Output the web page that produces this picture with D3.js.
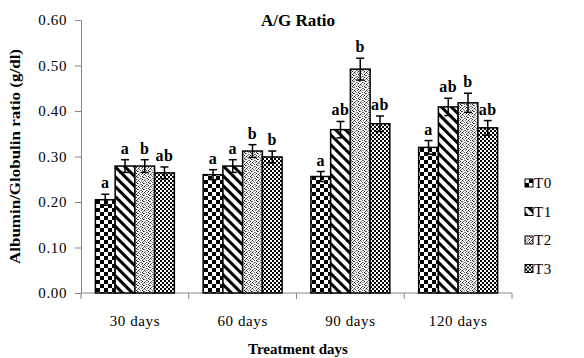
<!DOCTYPE html>
<html>
<head>
<meta charset="utf-8">
<script src="https://cdn.jsdelivr.net/npm/d3@7"></script>
<style>
  body { margin: 0; background: #fff; }
  svg { display: block; font-family: 'Liberation Serif', 'Times New Roman', serif; }
</style>
</head>
<body>
<div id="chart"></div>
<script>
// Data
const categories = ['30 days', '60 days', '90 days', '120 days'];
const seriesNames = ['T0', 'T1', 'T2', 'T3'];
const t0Values = [0.205, 0.260, 0.256, 0.320];
const t1Values = [0.279, 0.279, 0.359, 0.409];
const t2Values = [0.279, 0.312, 0.492, 0.418];
const t3Values = [0.264, 0.299, 0.372, 0.363];
const t0Errors = [0.012, 0.011, 0.011, 0.015];
const t1Errors = [0.014, 0.014, 0.018, 0.019];
const t2Errors = [0.014, 0.014, 0.024, 0.021];
const t3Errors = [0.013, 0.013, 0.017, 0.016];
const t0Letters = ['a', 'a', 'a', 'a'];
const t1Letters = ['a', 'a', 'ab', 'ab'];
const t2Letters = ['b', 'b', 'b', 'b'];
const t3Letters = ['ab', 'b', 'ab', 'ab'];
const yTicks = [0, 0.1, 0.2, 0.3, 0.4, 0.5, 0.6];

const values = [t0Values, t1Values, t2Values, t3Values];
const errors = [t0Errors, t1Errors, t2Errors, t3Errors];
const letters = [t0Letters, t1Letters, t2Letters, t3Letters];

const width = 584, height = 358;
const plot = { left: 81, right: 512, top: 20, bottom: 293 };
const axisColor = '#868686';

const svg = d3.select('#chart').append('svg')
  .attr('width', width)
  .attr('height', height);

// Fill patterns for the four series
const defs = svg.append('defs');

// T0: coarse checkerboard
const p0 = defs.append('pattern').attr('id', 'pat0')
  .attr('patternUnits', 'userSpaceOnUse').attr('width', 8).attr('height', 8);
p0.append('rect').attr('width', 8).attr('height', 8).attr('fill', '#fff');
p0.append('rect').attr('width', 4).attr('height', 4).attr('fill', '#000');
p0.append('rect').attr('x', 4).attr('y', 4).attr('width', 4).attr('height', 4).attr('fill', '#000');

// T1: wide diagonal stripes, running top-left to bottom-right
const p1 = defs.append('pattern').attr('id', 'pat1')
  .attr('patternUnits', 'userSpaceOnUse').attr('width', 7).attr('height', 7)
  .attr('patternTransform', 'rotate(45)');
p1.append('rect').attr('width', 7).attr('height', 7).attr('fill', '#fff');
p1.append('rect').attr('width', 7).attr('height', 3).attr('fill', '#000');

// T2: light stipple
const p2 = defs.append('pattern').attr('id', 'pat2')
  .attr('patternUnits', 'userSpaceOnUse').attr('width', 6).attr('height', 6);
p2.append('rect').attr('width', 6).attr('height', 6).attr('fill', '#f2f2f2');
[[0, 0], [3, 0], [1, 1], [4, 2], [2, 2], [0, 3], [5, 3], [3, 4], [1, 5], [4, 5], [2, 4], [5, 1]]
  .forEach(([px, py], i) => {
    p2.append('rect').attr('x', px).attr('y', py).attr('width', 1).attr('height', 1)
      .attr('fill', i % 3 === 0 ? '#222' : '#777');
  });

// T3: fine checkerboard
const p3 = defs.append('pattern').attr('id', 'pat3')
  .attr('patternUnits', 'userSpaceOnUse').attr('width', 4).attr('height', 4);
p3.append('rect').attr('width', 4).attr('height', 4).attr('fill', '#fff');
p3.append('rect').attr('width', 2).attr('height', 2).attr('fill', '#000');
p3.append('rect').attr('x', 2).attr('y', 2).attr('width', 2).attr('height', 2).attr('fill', '#000');

// Scales
const x0 = d3.scaleBand()
  .domain(categories)
  .range([plot.left, plot.right])
  .paddingInner(0)
  .paddingOuter(0);

const x1 = d3.scaleBand()
  .domain(seriesNames)
  .range([0, x0.bandwidth()])
  .paddingInner(0)
  .paddingOuter(0.73);

const y = d3.scaleLinear()
  .domain([0, 0.6])
  .range([plot.bottom, plot.top]);

// Y axis
const yAxis = svg.append('g')
  .attr('transform', `translate(${plot.left},0)`)
  .call(d3.axisLeft(y).tickValues(yTicks).tickSize(6).tickPadding(8).tickFormat(d3.format('.2f')));
yAxis.select('.domain').attr('stroke', axisColor);
yAxis.selectAll('.tick line').attr('stroke', axisColor);
yAxis.selectAll('.tick text')
  .attr('fill', '#000')
  .style('font-family', "'Liberation Serif', serif")
  .style('font-size', '15px')
  .style('letter-spacing', '0.6px');

// X axis with ticks at category boundaries
const xAxis = svg.append('g')
  .attr('transform', `translate(0,${plot.bottom})`);
xAxis.append('line')
  .attr('x1', plot.left).attr('x2', plot.right)
  .attr('stroke', axisColor);
const boundaries = categories.map(c => x0(c)).concat([plot.right]);
xAxis.selectAll('.xtick')
  .data(boundaries)
  .enter()
  .append('line')
  .attr('class', 'xtick')
  .attr('x1', d => d).attr('x2', d => d)
  .attr('y1', 0).attr('y2', 6)
  .attr('stroke', axisColor);
xAxis.selectAll('.xlabel')
  .data(categories)
  .enter()
  .append('text')
  .attr('class', 'xlabel')
  .attr('x', d => x0(d) + x0.bandwidth() / 2)
  .attr('y', 33)
  .attr('text-anchor', 'middle')
  .style('font-size', '15px')
  .style('letter-spacing', '0.6px')
  .text(d => d);

// Bars, error bars and significance letters
const bars = [];
seriesNames.forEach((s, si) => {
  categories.forEach((c, ci) => {
    bars.push({ series: s, si, category: c, value: values[si][ci], err: errors[si][ci], letter: letters[si][ci] });
  });
});

svg.selectAll('.bar')
  .data(bars)
  .enter()
  .append('rect')
  .attr('class', 'bar')
  .attr('x', d => x0(d.category) + x1(d.series))
  .attr('y', d => y(d.value))
  .attr('width', x1.bandwidth())
  .attr('height', d => y(0) - y(d.value))
  .attr('fill', d => `url(#pat${d.si})`)
  .attr('stroke', '#000')
  .attr('stroke-width', 1.5);

const errG = svg.append('g').attr('stroke', '#000').attr('stroke-width', 1.5);
bars.forEach(d => {
  const cx = x0(d.category) + x1(d.series) + x1.bandwidth() / 2;
  const top = y(d.value + d.err), bot = y(d.value - d.err);
  errG.append('line').attr('x1', cx).attr('x2', cx).attr('y1', top).attr('y2', bot);
  errG.append('line').attr('x1', cx - 4).attr('x2', cx + 4).attr('y1', top).attr('y2', top);
  errG.append('line').attr('x1', cx - 4).attr('x2', cx + 4).attr('y1', bot).attr('y2', bot);
});

svg.selectAll('.sig')
  .data(bars)
  .enter()
  .append('text')
  .attr('class', 'sig')
  .attr('x', d => x0(d.category) + x1(d.series) + x1.bandwidth() / 2)
  .attr('y', d => y(d.value + d.err) - 6)
  .attr('text-anchor', 'middle')
  .style('font-size', '16px')
  .style('font-weight', 'bold')
  .style('letter-spacing', '0.5px')
  .text(d => d.letter);

// Title
svg.append('text')
  .attr('x', 298)
  .attr('y', 26)
  .attr('text-anchor', 'middle')
  .style('font-size', '17px')
  .style('font-weight', 'bold')
  .text('A/G Ratio');

// Axis titles
svg.append('text')
  .attr('transform', `translate(20,${(plot.top + plot.bottom) / 2}) rotate(-90)`)
  .attr('text-anchor', 'middle')
  .attr('textLength', 215)
  .attr('lengthAdjust', 'spacingAndGlyphs')
  .style('font-size', '14px')
  .style('font-weight', 'bold')
  .text('Albumin/Globulin ratio (g/dl)');

svg.append('text')
  .attr('x', 298)
  .attr('y', 354)
  .attr('text-anchor', 'middle')
  .style('font-size', '15px')
  .style('font-weight', 'bold')
  .text('Treatment days');

// Legend
const legend = svg.append('g')
  .attr('transform', 'translate(525,183)');
seriesNames.forEach((s, i) => {
  const row = legend.append('g').attr('transform', `translate(0,${i * 28.5})`);
  row.append('rect')
    .attr('x', 0).attr('y', -4)
    .attr('width', 8).attr('height', 8)
    .attr('fill', `url(#pat${i})`)
    .attr('stroke', '#000')
    .attr('stroke-width', 1);
  row.append('text')
    .attr('x', 9)
    .attr('y', 5)
    .style('font-size', '15px')
    .style('letter-spacing', '0.6px')
    .text(s);
});
</script>
</body>
</html>
